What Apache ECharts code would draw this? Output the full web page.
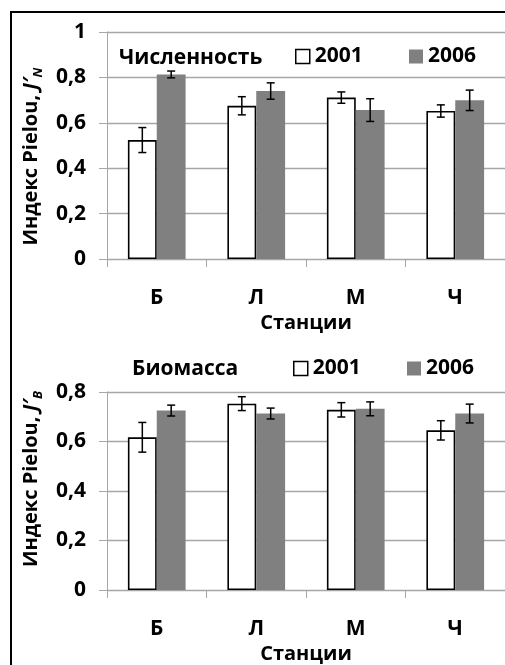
<!DOCTYPE html>
<html>
<head>
<meta charset="utf-8">
<script src="https://cdn.jsdelivr.net/npm/echarts@6/dist/echarts.min.js"></script>
<style>
  html, body { margin: 0; padding: 0; background: #fff; }
  #chart { width: 505px; height: 665px; }
</style>
</head>
<body>
<div id="chart"></div>
<script>
  // станции и значения индекса Пиелу (средние и ошибки)
  var stations = ['Б', 'Л', 'М', 'Ч'];
  var numer2001 = [0.524, 0.675, 0.711, 0.652];
  var numer2001Err = [0.055, 0.040, 0.025, 0.027];
  var numer2006 = [0.813, 0.740, 0.656, 0.699];
  var numer2006Err = [0.015, 0.036, 0.050, 0.045];
  var bio2001 = [0.617, 0.753, 0.728, 0.645];
  var bio2001Err = [0.060, 0.028, 0.029, 0.039];
  var bio2006 = [0.725, 0.713, 0.732, 0.713];
  var bio2006Err = [0.022, 0.022, 0.028, 0.038];

  var FONT = 'Open Sans';
  var FS = 21;
  var GAP = 0.42;
  var gridColor = '#a6a6a6';

  function errData(vals, errs) {
    return vals.map(function (v, i) { return [i, v - errs[i], v + errs[i]]; });
  }

  function errRender(side) {
    return function (params, api) {
      var idx = api.value(0);
      var lo = api.coord([idx, api.value(1)]);
      var hi = api.coord([idx, api.value(2)]);
      var band = api.size([1, 0])[0];
      var bw = band * (1 - GAP) / 2;
      var cx = lo[0] + side * bw / 2;
      var cap = 4;
      var st = { stroke: '#000', lineWidth: 1.5 };
      return {
        type: 'group',
        children: [
          { type: 'line', shape: { x1: cx, y1: lo[1], x2: cx, y2: hi[1] }, style: st },
          { type: 'line', shape: { x1: cx - cap, y1: lo[1], x2: cx + cap, y2: lo[1] }, style: st },
          { type: 'line', shape: { x1: cx - cap, y1: hi[1], x2: cx + cap, y2: hi[1] }, style: st }
        ]
      };
    };
  }

  function xAxis(gi) {
    return {
      type: 'category', gridIndex: gi, data: stations,
      name: 'Станции', nameLocation: 'middle', nameGap: 54,
      nameTextStyle: { fontFamily: FONT, fontWeight: 'bold', fontSize: 20, color: '#000' },
      axisLine: { lineStyle: { color: gridColor, width: 1 } },
      axisTick: { show: true, length: 8, lineStyle: { color: gridColor } },
      axisLabel: { margin: 29, fontFamily: FONT, fontWeight: 'bold', fontSize: FS, color: '#000' }
    };
  }

  function yAxis(gi, max, sub, pad) {
    return {
      type: 'value', gridIndex: gi, min: 0, max: max, interval: 0.2,
      name: '{n|Индекс Pielou, }{i|J\u2032}{s|' + sub + '}',
      nameLocation: 'middle', nameRotate: 90, nameGap: 55,
      nameTextStyle: {
        padding: pad, fontStyle: 'normal',
        rich: {
          n: { fontFamily: FONT, fontWeight: 'bold', fontStyle: 'normal', fontSize: 20, color: '#000', lineHeight: 28 },
          i: { fontFamily: FONT, fontWeight: 'bold', fontStyle: 'italic', fontSize: 20, color: '#000', lineHeight: 28 },
          s: { fontFamily: FONT, fontWeight: 'bold', fontStyle: 'italic', fontSize: 13, color: '#000', verticalAlign: 'bottom', lineHeight: 17 }
        }
      },
      axisLine: { show: true, lineStyle: { color: gridColor, width: 1 } },
      axisTick: { show: true, length: 8, lineStyle: { color: gridColor } },
      splitLine: { lineStyle: { color: gridColor, width: 1.3 } },
      axisLabel: {
        margin: 21, fontFamily: FONT, fontWeight: 'bold', fontSize: FS, color: '#000',
        formatter: function (v) { return String(+v.toFixed(1)).replace('.', ','); }
      }
    };
  }

  function barSeries(name, gi, vals, white) {
    return {
      name: name, type: 'bar', xAxisIndex: gi, yAxisIndex: gi, data: vals,
      barGap: '0%', barCategoryGap: (GAP * 100) + '%',
      itemStyle: white ? { color: '#fff', borderColor: '#000', borderWidth: 1.6 } : { color: '#808080' },
      emphasis: { disabled: true }, z: 2
    };
  }

  function errSeries(gi, vals, errs, side) {
    return {
      type: 'custom', xAxisIndex: gi, yAxisIndex: gi,
      data: errData(vals, errs), renderItem: errRender(side), z: 5, silent: true
    };
  }

  var leg2001 = { name: '2001', itemStyle: { color: '#fff', borderColor: '#000', borderWidth: 1.5 } };
  var leg2006 = { name: '2006', itemStyle: { color: '#808080' } };
  function legend(item, left, top) {
    return {
      data: [item], left: left, top: top, itemWidth: 14, itemHeight: 14, itemGap: 0,
      icon: 'rect', selectedMode: false, padding: 0,
      textStyle: { fontFamily: FONT, fontWeight: 'bold', fontSize: FS, color: '#000' }
    };
  }

  var option = {
    backgroundColor: '#fff',
    animation: false,
    title: [
      { text: 'Численность', left: 119, top: 48, padding: 0,
        textStyle: { fontFamily: FONT, fontWeight: 'bold', fontSize: FS, color: '#000' } },
      { text: 'Биомасса', left: 132, top: 359, padding: 0,
        textStyle: { fontFamily: FONT, fontWeight: 'bold', fontSize: FS, color: '#000' } }
    ],
    legend: [
      legend(leg2001, 295, 46), legend(leg2006, 409, 46),
      legend(leg2001, 293, 358), legend(leg2006, 407, 358)
    ],
    grid: [
      { left: 107, top: 32, width: 405, height: 227 },
      { left: 107, top: 392, width: 405, height: 199 }
    ],
    xAxis: [xAxis(0), xAxis(1)],
    yAxis: [yAxis(0, 1, 'N', [0, 22, 0, 0]), yAxis(1, 0.8, 'B', [0, 0, 0, 24])],
    series: [
      barSeries('2001', 0, numer2001, true),
      barSeries('2006', 0, numer2006, false),
      errSeries(0, numer2001, numer2001Err, -1),
      errSeries(0, numer2006, numer2006Err, 1),
      barSeries('2001', 1, bio2001, true),
      barSeries('2006', 1, bio2006, false),
      errSeries(1, bio2001, bio2001Err, -1),
      errSeries(1, bio2006, bio2006Err, 1)
    ],
    graphic: [
      { type: 'rect', shape: { x: 11, y: 12, width: 600, height: 700 },
        style: { fill: null, stroke: '#000', lineWidth: 2 }, silent: true }
    ]
  };

  var chart = echarts.init(document.getElementById('chart'));
  chart.setOption(option);
</script>
</body>
</html>
